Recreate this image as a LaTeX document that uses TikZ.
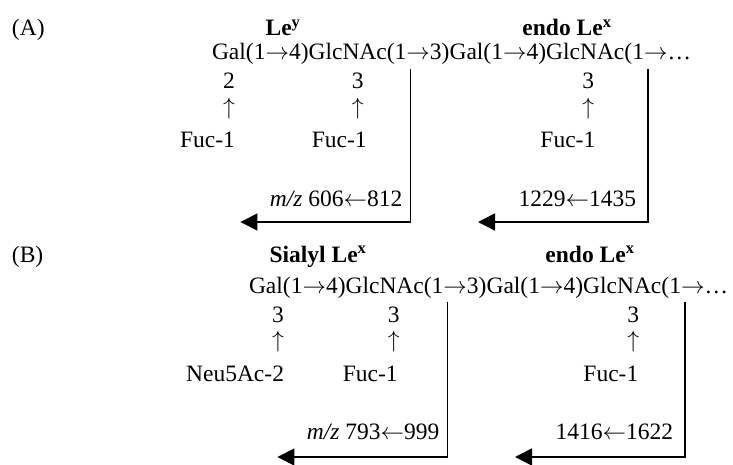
\RequirePackage{fix-cm}
\documentclass[tikz,border=0pt]{standalone}
\usepackage{fontspec}
\setmainfont{Liberation Serif}
\usetikzlibrary{arrows.meta,calc}
\newcommand{\ra}{$\rightarrow$}
\newcommand{\la}{$\leftarrow$}
\begin{document}
\begin{tikzpicture}[x=1pt,y=-1pt,
  every node/.style={inner sep=0pt,outer sep=0pt,font=\fontsize{23.5}{28}\selectfont},
  seg/.style={anchor=base west},
  hdr/.style={anchor=base,font=\fontsize{23.5}{28}\selectfont\bfseries},
  num/.style={anchor=base},
  upar/.style={anchor=center},
  subst/.style={anchor=base east},
  mass/.style={anchor=base east},
  cut/.style={line width=1.5pt,-{Triangle[length=17pt,width=17pt]}},
]
\useasboundingbox (0,0) rectangle (733,465);

% ---------------- (A) ----------------
\node[anchor=base west] (A) at (12,36) {(A)};
\node[hdr] (aLey) at (283,36) {Le\textsuperscript{y}};
\node[hdr] (aendo) at (567,36) {endo Le\textsuperscript{x}};

\node[seg] (ag1) at (212,60) {Gal};
\node[seg] (al1) at (ag1.base east) {(1\ra4)};
\node[seg] (an1) at (al1.base east) {GlcNAc};
\node[seg] (al2) at (an1.base east) {(1};
\node[seg] (ac1) at (al2.base east) {\ra};
\node[seg] (al3) at (ac1.base east) {3)};
\node[seg] (ag2) at (al3.base east) {Gal};
\node[seg] (al4) at (ag2.base east) {(1\ra4)};
\node[seg] (an2) at (al4.base east) {GlcNAc};
\node[seg] (al5) at (an2.base east) {(1};
\node[seg] (ac2) at (al5.base east) {\ra};
\node[seg] (al6) at (ac2.base east) {…};

\node[num] (ad1) at (ag1.base |- 0,89) {2};
\node[upar] (au1) at (ad1.base |- 0,109) {$\uparrow$};
\node[subst] (af1) at ($(ad1.base)+(6,59)$) {Fuc-1};

\node[num] (ad2) at ($(an1.base |- 0,89)+(10,0)$) {3};
\node[upar] (au2) at (ad2.base |- 0,109) {$\uparrow$};
\node[subst] (af2) at ($(ad2.base)+(9,59)$) {Fuc-1};

\node[num] (ad3) at ($(an2.base |- 0,89)+(3,0)$) {3};
\node[upar] (au3) at (ad3.base |- 0,109) {$\uparrow$};
\node[subst] (af3) at ($(ad3.base)+(7,59)$) {Fuc-1};

\coordinate (ca1) at ([xshift=4pt]ac1.south west);
\coordinate (ca2) at ([xshift=4pt]ac2.south west);
\path (ca1) ++(-170,0) coordinate (ta1x);
\path (ca2) ++(-170,0) coordinate (ta2x);
\coordinate (ta1) at (ta1x |- 0,222);
\coordinate (ta2) at (ta2x |- 0,222);
\node[mass] (am1) at ($(ca1 |- 0,206)+(-8,0)$) {\textit{m/z} 606\la812};
\node[mass] (am2) at ($(ca2 |- 0,206)+(-12,0)$) {1229\la1435};
\draw[cut] (ca1) ++(0,9) |- (ta1);
\draw[cut] (ca2) ++(0,9) |- (ta2);

% ---------------- (B) ----------------
\node[anchor=base west] (B) at (12,262) {(B)};
\node[hdr] (bSLe) at (318,262) {Sialyl Le\textsuperscript{x}};
\node[hdr] (bendo) at (590,262) {endo Le\textsuperscript{x}};

\node[seg] (bg1) at (249,293) {Gal};
\node[seg] (bl1) at (bg1.base east) {(1\ra4)};
\node[seg] (bn1) at (bl1.base east) {GlcNAc};
\node[seg] (bl2) at (bn1.base east) {(1};
\node[seg] (bc1) at (bl2.base east) {\ra};
\node[seg] (bl3) at (bc1.base east) {3)};
\node[seg] (bg2) at (bl3.base east) {Gal};
\node[seg] (bl4) at (bg2.base east) {(1\ra4)};
\node[seg] (bn2) at (bl4.base east) {GlcNAc};
\node[seg] (bl5) at (bn2.base east) {(1};
\node[seg] (bc2) at (bl5.base east) {\ra};
\node[seg] (bl6) at (bc2.base east) {…};

\node[num] (bd1) at (278,322) {3};
\node[upar] (bu1) at (bd1.base |- 0,342) {$\uparrow$};
\node[subst] (bf1) at ($(bd1.base)+(6,59)$) {Neu5Ac-2};

\node[num] (bd2) at ($(bn1.base |- 0,322)+(9,0)$) {3};
\node[upar] (bu2) at (bd2.base |- 0,342) {$\uparrow$};
\node[subst] (bf2) at ($(bd2.base)+(4,59)$) {Fuc-1};

\node[num] (bd3) at ($(bn2.base |- 0,322)+(11,0)$) {3};
\node[upar] (bu3) at (bd3.base |- 0,342) {$\uparrow$};
\node[subst] (bf3) at ($(bd3.base)+(5,59)$) {Fuc-1};

\coordinate (cb1) at ([xshift=4pt]bc1.south west);
\coordinate (cb2) at ([xshift=4pt]bc2.south west);
\path (cb1) ++(-170,0) coordinate (tb1x);
\path (cb2) ++(-170,0) coordinate (tb2x);
\coordinate (tb1) at (tb1x |- 0,457);
\coordinate (tb2) at (tb2x |- 0,457);
\node[mass] (bm1) at ($(cb1 |- 0,439)+(-8,0)$) {\textit{m/z} 793\la999};
\node[mass] (bm2) at ($(cb2 |- 0,439)+(-12,0)$) {1416\la1622};
\draw[cut] (cb1) ++(0,9) |- (tb1);
\draw[cut] (cb2) ++(0,9) |- (tb2);
\end{tikzpicture}
\end{document}
